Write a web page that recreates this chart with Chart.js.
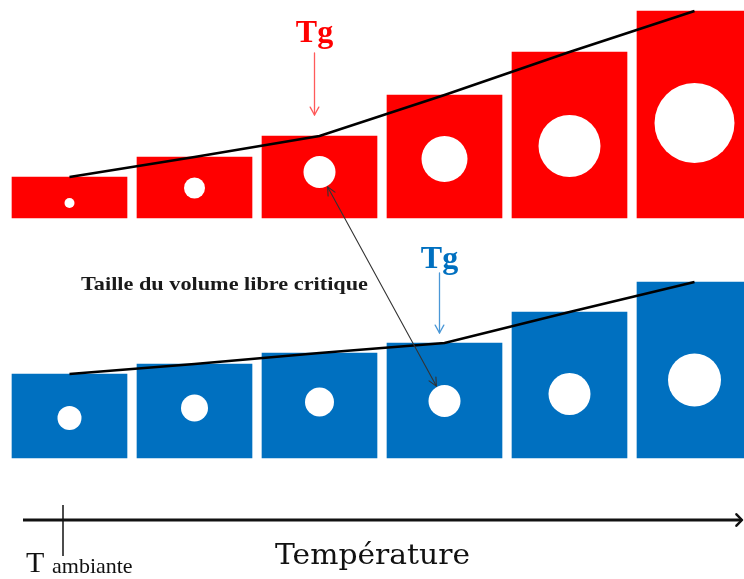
<!DOCTYPE html>
<html><head><meta charset="utf-8">
<script src="https://cdn.jsdelivr.net/npm/chart.js@4/dist/chart.umd.min.js"></script>
<style>html,body{margin:0;padding:0;background:#fff;}canvas{display:block;}</style>
</head><body>
<canvas id="c" width="744" height="579"></canvas>
<script>
// ---- data ----
const steps = [0, 1, 2, 3, 4, 5];                       // temperature steps
const redVolume  = [41, 61, 82, 123, 166, 207];          // total volume, upper material
const blueVolume = [84, 94, 105, 115, 146, 176];         // total volume, lower material
const redHoleLevel  = [15, 30, 46, 59, 72, 95];          // free-volume hole height in block
const redHoleSize   = [5, 10.5, 16, 23, 31, 40];         // free-volume hole radius
const blueHoleLevel = [40, 50, 56, 57, 64, 78];
const blueHoleSize  = [12, 13.5, 14.5, 16, 21, 26.5];
const tgRedStep = 2;
const tgBlueStep = 3;
const tgLabel = "Tg";
const criticalLabel = "Taille du volume libre critique";
const axisTitle = "Température";
const ambientMain = "T";
const ambientSub = "ambiante";

const RED = "#ff0000", BLUE = "#0070c0";

const pts = (vals) => steps.map((s, i) => ({x: s, y: vals[i]}));
const bub = (lv, rs) => steps.map((s, i) => ({x: s, y: lv[i], r: rs[i]}));

function arrowHead(ctx, x1, y1, x2, y2, len, ang) {
  const a = Math.atan2(y2 - y1, x2 - x1);
  ctx.beginPath();
  ctx.moveTo(x2 - len * Math.cos(a - ang), y2 - len * Math.sin(a - ang));
  ctx.lineTo(x2, y2);
  ctx.lineTo(x2 - len * Math.cos(a + ang), y2 - len * Math.sin(a + ang));
  ctx.stroke();
}
function fitText(ctx, text, x, y, font, width, color) {
  ctx.save();
  ctx.font = font; ctx.fillStyle = color; ctx.textBaseline = "alphabetic"; ctx.textAlign = "left";
  const w = ctx.measureText(text).width;
  ctx.translate(x, y); ctx.scale(width / w, 1);
  ctx.fillText(text, 0, 0);
  ctx.restore();
}

const overlay = {
  id: "overlay",
  afterDraw(chart) {
    const ctx = chart.ctx, xs = chart.scales.x, yR = chart.scales.yR, yB = chart.scales.yB;
    ctx.save();
    ctx.lineCap = "round"; ctx.lineJoin = "round";
    // Tg red
    const rx = xs.getPixelForValue(tgRedStep) - 5;
    const rTip = yR.getPixelForValue(redVolume[tgRedStep]) - 21;
    ctx.strokeStyle = "#ff5a5a"; ctx.lineWidth = 1.3;
    ctx.beginPath(); ctx.moveTo(rx, rTip - 62); ctx.lineTo(rx, rTip); ctx.stroke();
    arrowHead(ctx, rx, rTip - 62, rx, rTip, 9, 0.5);
    ctx.font = "bold 32px 'Liberation Serif'"; ctx.fillStyle = RED; ctx.textAlign = "center";
    ctx.fillText(tgLabel, rx, rTip - 73);
    // Tg blue
    const bx = xs.getPixelForValue(tgBlueStep) - 5;
    const bTip = yB.getPixelForValue(blueVolume[tgBlueStep]) - 10;
    ctx.strokeStyle = "#4a97d6"; ctx.lineWidth = 1.3;
    ctx.beginPath(); ctx.moveTo(bx, bTip - 60); ctx.lineTo(bx, bTip); ctx.stroke();
    arrowHead(ctx, bx, bTip - 60, bx, bTip, 9, 0.5);
    ctx.fillStyle = BLUE;
    ctx.fillText(tgLabel, bx, bTip - 65);
    // double arrow between critical holes
    const ax = xs.getPixelForValue(tgRedStep), ay = yR.getPixelForValue(redHoleLevel[tgRedStep]);
    const cx = xs.getPixelForValue(tgBlueStep), cy = yB.getPixelForValue(blueHoleLevel[tgBlueStep]);
    const d = Math.hypot(cx - ax, cy - ay), ux = (cx - ax) / d, uy = (cy - ay) / d;
    const p1x = ax + ux * (redHoleSize[tgRedStep] + 1), p1y = ay + uy * (redHoleSize[tgRedStep] + 1);
    const p2x = cx - ux * (blueHoleSize[tgBlueStep] + 1), p2y = cy - uy * (blueHoleSize[tgBlueStep] + 1);
    ctx.strokeStyle = "#333"; ctx.lineWidth = 1.1;
    ctx.beginPath(); ctx.moveTo(p1x, p1y); ctx.lineTo(p2x, p2y); ctx.stroke();
    arrowHead(ctx, p2x, p2y, p1x, p1y, 9, 0.45);
    arrowHead(ctx, p1x, p1y, p2x, p2y, 9, 0.45);
    // caption
    fitText(ctx, criticalLabel, 81, 290, "bold 19px 'Liberation Serif'", 287, "#1a1a1a");
    // temperature axis
    ctx.strokeStyle = "#111"; ctx.lineWidth = 3; ctx.lineCap = "butt";
    ctx.beginPath(); ctx.moveTo(23, 520); ctx.lineTo(741, 520); ctx.stroke();
    ctx.lineWidth = 2.5; ctx.lineCap = "round";
    arrowHead(ctx, 700, 520, 742, 520, 8, 0.8);
    ctx.lineWidth = 1.5; ctx.lineCap = "butt";
    ctx.beginPath(); ctx.moveTo(63, 505); ctx.lineTo(63, 556); ctx.stroke();
    ctx.textAlign = "left"; ctx.fillStyle = "#111";
    ctx.font = "30px 'Liberation Serif'"; ctx.fillText(ambientMain, 26, 572);
    ctx.font = "22px 'Liberation Serif'"; ctx.fillText(ambientSub, 52, 573);
    fitText(ctx, axisTitle, 275, 564, "28px 'DejaVu Serif'", 195, "#111");
    ctx.restore();
  }
};

new Chart(document.getElementById("c"), {
  data: {
    datasets: [
      {type: "line", data: pts(redVolume), yAxisID: "yR", borderColor: "#000", borderWidth: 2.6, pointRadius: 0, tension: 0, order: 1, clip: false},
      {type: "line", data: pts(blueVolume), yAxisID: "yB", borderColor: "#000", borderWidth: 2.6, pointRadius: 0, tension: 0, order: 1, clip: false},
      {type: "bubble", data: bub(redHoleLevel, redHoleSize), yAxisID: "yR", backgroundColor: "#fff", borderWidth: 0, order: 2, clip: false},
      {type: "bubble", data: bub(blueHoleLevel, blueHoleSize), yAxisID: "yB", backgroundColor: "#fff", borderWidth: 0, order: 2, clip: false},
      {type: "bar", data: pts(redVolume), yAxisID: "yR", backgroundColor: RED, barThickness: 115, grouped: false, borderWidth: 0, order: 3, clip: false},
      {type: "bar", data: pts(blueVolume), yAxisID: "yB", backgroundColor: BLUE, barThickness: 115, grouped: false, borderWidth: 0, order: 3, clip: false}
    ]
  },
  options: {
    responsive: false, animation: false, devicePixelRatio: 1, events: [],
    layout: {padding: 0, autoPadding: false},
    plugins: {legend: {display: false}, tooltip: {enabled: false}},
    scales: {
      x: {type: "linear", min: -0.556, max: 5.396, display: false, offset: false, grace: 0},
      yR: {type: "linear", min: -361, max: 218, display: false, grace: 0},
      yB: {type: "linear", min: -121, max: 458, display: false, grace: 0}
    }
  },
  plugins: [overlay]
});
</script>
</body></html>
